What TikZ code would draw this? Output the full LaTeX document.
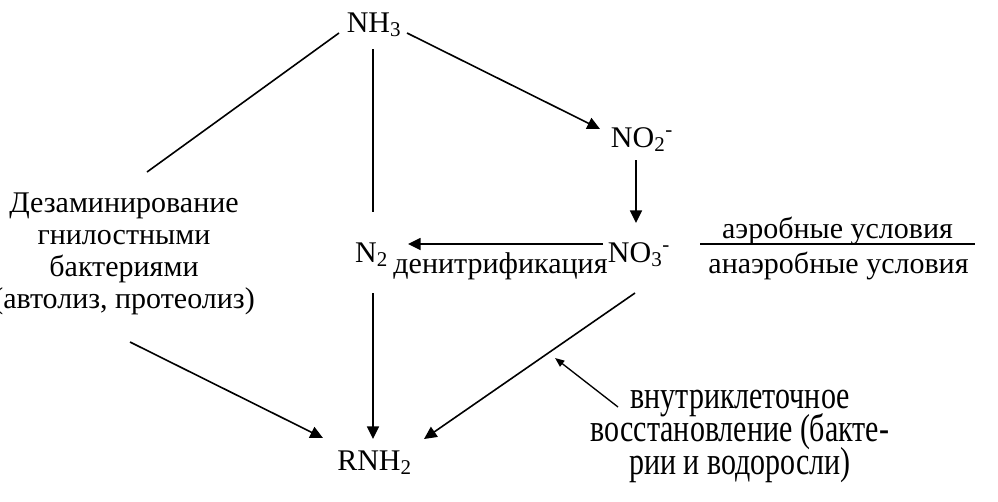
\documentclass[tikz,border=0pt]{standalone}
\usepackage{fontspec}
\setmainfont{Liberation Serif}
\usepackage{graphicx}
\usetikzlibrary{arrows.meta}
\begin{document}
\begin{tikzpicture}[x=0.75pt,y=-0.75pt,
  every node/.style={inner sep=0pt, anchor=base, font=\fontsize{22.5pt}{24pt}\selectfont},
  conn/.style={line width=1.2pt},
  arr/.style={conn, -{Triangle[length=9.5pt,width=9pt]}},
  sarr/.style={line width=1pt, -{Triangle[length=7pt,width=5.5pt]}},
  tall/.style={font=\fontsize{22.5pt}{19.2pt}\selectfont}]
\useasboundingbox (0,0) rectangle (998,501);
% nodes
\node (nh3) at (374,32) {NH\textsubscript{3}};
\node (no2) at (642,147) {NO\textsubscript{2}\textsuperscript{-}};
\node (no3) at (639,262) {NO\textsubscript{3}\textsuperscript{-}};
\node (n2) at (371.5,262) {N\textsubscript{2}};
\node (rnh2) at (374.5,470) {RNH\textsubscript{2}};
\node (denit) at (500.5,273) {денитрификация};
\node (dez) at (124,212) {\begin{tabular}[t]{@{}c@{}}Дезаминирование\\гнилостными\\бактериями\\(автолиз, протеолиз)\end{tabular}};
\node (aer) at (837.5,238) {аэробные условия};
\node (anaer) at (838.5,273) {анаэробные условия};
\node[tall] (intr) at (740,408) {\scalebox{1}[1.3]{\begin{tabular}[t]{@{}c@{}}\smash{внутриклеточное}\\\smash{восстановление (бакте-}\\\smash{рии и водоросли)}\end{tabular}}};
% connectors
\draw[conn] ([shift={(-35,1)}]nh3.base) -- ([shift={(23,-40)}]dez.base);
\draw[conn] ([shift={(-1,17)}]nh3.base) -- ([shift={(1.5,-50)}]n2.base);
\draw[arr] ([shift={(33,1)}]nh3.base) -- ([shift={(-42,-18)}]no2.base);
\draw[arr] ([shift={(-6,13)}]no2.base) -- ([shift={(-3,-39)}]no3.base);
\draw[arr] ([shift={(-36,-18)}]no3.base) -- ([shift={(36.5,-18)}]n2.base);
\draw[arr] ([shift={(-4,31)}]no3.base) -- ([shift={(49.5,-31)}]rnh2.base);
\draw[arr] ([shift={(1.5,31)}]n2.base) -- ([shift={(-1.5,-31)}]rnh2.base);
\draw[arr] ([shift={(6,130)}]dez.base) -- ([shift={(-51.5,-32)}]rnh2.base);
\draw[sarr] ([shift={(-122,-1)}]intr.base) -- ([shift={(-84,96)}]no3.base);
\draw[conn] ([shift={(-137.5,6)}]aer.base) -- ([shift={(137.5,6)}]aer.base);
\end{tikzpicture}
\end{document}
